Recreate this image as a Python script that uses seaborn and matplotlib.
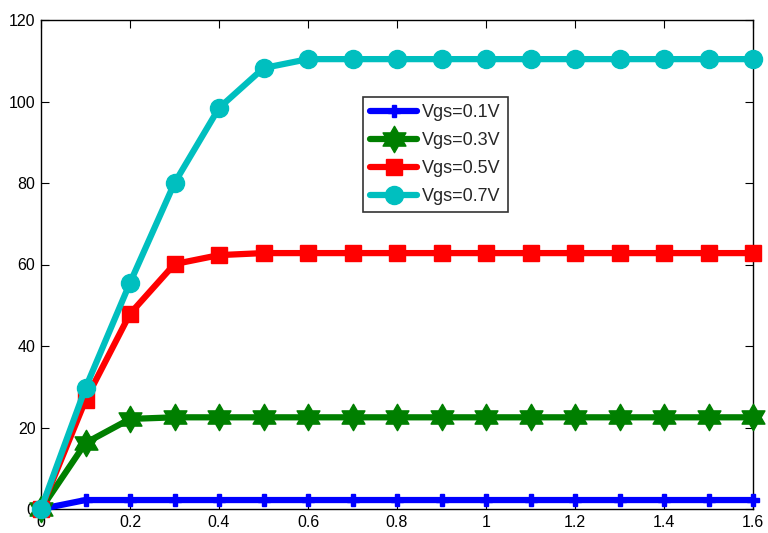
import numpy as np
import pandas as pd
import matplotlib
matplotlib.use("Agg")
import matplotlib.pyplot as plt
from matplotlib.path import Path
import seaborn as sns

# Drain-source voltage (x) and current for each gate voltage
vds = [0, 0.1, 0.2, 0.3, 0.4, 0.5, 0.6, 0.7, 0.8, 0.9, 1.0, 1.1, 1.2, 1.3, 1.4, 1.5, 1.6]
i_01 = [0, 2.2, 2.2, 2.2, 2.2, 2.2, 2.2, 2.2, 2.2, 2.2, 2.2, 2.2, 2.2, 2.2, 2.2, 2.2, 2.2]
i_03 = [0, 16.2, 22.1, 22.5, 22.5, 22.5, 22.5, 22.5, 22.5, 22.5, 22.5, 22.5, 22.5, 22.5, 22.5, 22.5, 22.5]
i_05 = [0, 26.7, 47.9, 60.1, 62.3, 62.8, 62.8, 62.8, 62.8, 62.8, 62.8, 62.8, 62.8, 62.8, 62.8, 62.8, 62.8]
i_07 = [0, 29.7, 55.5, 80.0, 98.4, 108.2, 110.4, 110.4, 110.4, 110.4, 110.4, 110.4, 110.4, 110.4, 110.4, 110.4, 110.4]
labels = ["Vgs=0.1V", "Vgs=0.3V", "Vgs=0.5V", "Vgs=0.7V"]
x_ticks = [0, 0.2, 0.4, 0.6, 0.8, 1, 1.2, 1.4, 1.6]
y_ticks = [0, 20, 40, 60, 80, 100, 120]

# six-pointed star marker
ang = np.pi / 2 + np.arange(12) * np.pi / 6
rad = np.where(np.arange(12) % 2 == 0, 1.0, 1 / np.sqrt(3))
verts = np.column_stack([rad * np.cos(ang), rad * np.sin(ang)])
verts = np.vstack([verts, verts[:1]])
hexagram = Path(verts, [Path.MOVETO] + [Path.LINETO] * 11 + [Path.CLOSEPOLY])

styles = [
    dict(color="#0000ff", marker="P", ms=9),
    dict(color="#007f00", marker=hexagram, ms=19),
    dict(color="#ff0000", marker="s", ms=11),
    dict(color="#00bfbf", marker="o", ms=13),
]

sns.set_style("ticks")
plt.rcParams["font.family"] = ["Liberation Sans", "DejaVu Sans"]

fig = plt.figure(figsize=(7.68, 5.33), dpi=100)
ax = fig.add_axes([41 / 768, 24 / 533, 712 / 768, 489 / 533])

for ys, lab, st in zip([i_01, i_03, i_05, i_07], labels, styles):
    df = pd.DataFrame({"x": vds, "y": ys})
    sns.lineplot(data=df, x="x", y="y", ax=ax, color=st["color"], linewidth=4.5,
                 marker=st["marker"], markersize=st["ms"], markeredgecolor=st["color"],
                 markerfacecolor=st["color"], markeredgewidth=1, label=lab,
                 clip_on=False, zorder=3)

ax.set_xlim(0, 1.6)
ax.set_ylim(0, 120)
ax.set_xticks(x_ticks)
ax.set_xticklabels(["0", "0.2", "0.4", "0.6", "0.8", "1", "1.2", "1.4", "1.6"])
ax.set_yticks(y_ticks)
ax.set_xlabel("")
ax.set_ylabel("")
ax.tick_params(direction="in", top=True, right=True, length=6, width=0.8,
               labelsize=11.5, colors="black", pad=4)
for sp in ax.spines.values():
    sp.set_visible(True)
    sp.set_linewidth(1.0)
    sp.set_color("black")

leg = ax.legend(loc="upper left", bbox_to_anchor=(0.452, 0.842), frameon=True,
                fancybox=False, edgecolor="black", fontsize=13, handlelength=2.6,
                handletextpad=0.3, borderpad=0.4, labelspacing=0.6,
                borderaxespad=0)
leg.get_frame().set_linewidth(1.2)

fig.savefig("out.png", dpi=100, facecolor="white")
